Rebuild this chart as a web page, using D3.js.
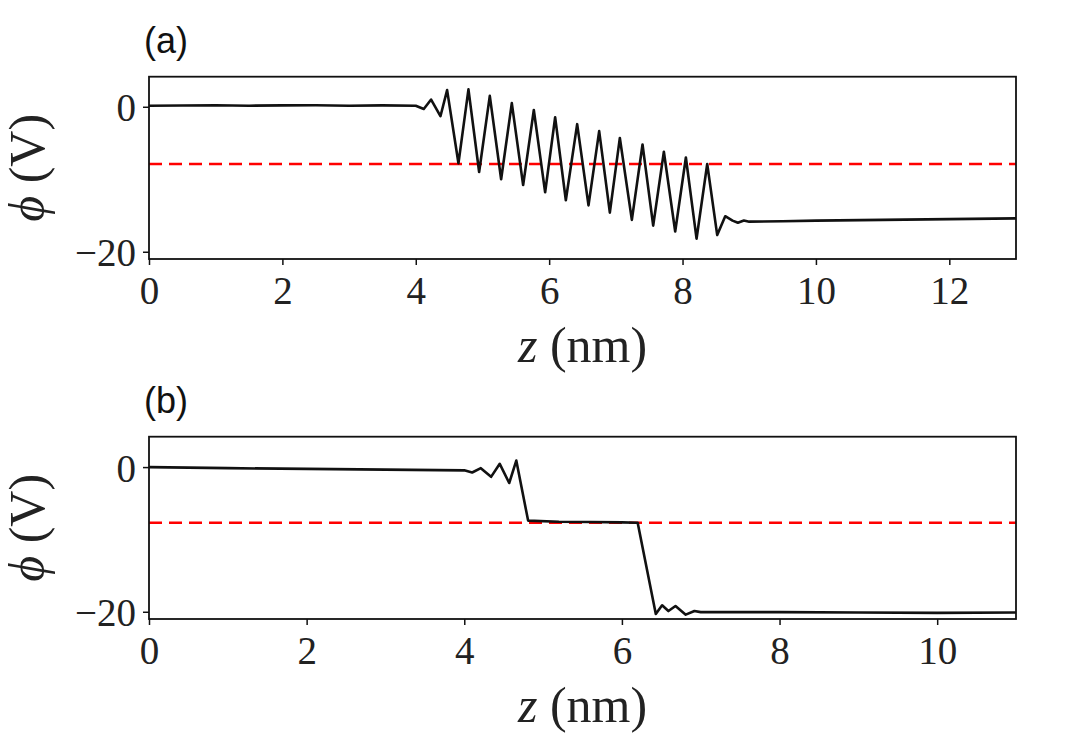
<!DOCTYPE html>
<html>
<head>
<meta charset="utf-8">
<script src="https://cdn.jsdelivr.net/npm/d3@7"></script>
<style>
  body { margin: 0; background: #fff; }
  svg { display: block; }
  .tick text { font-family: "Liberation Serif", "DejaVu Serif", serif; font-size: 39px; fill: #222; }
  .lab { font-family: "Liberation Serif", "DejaVu Serif", serif; font-size: 50px; fill: #222; }
  .panel { font-family: "Liberation Sans", Arial, sans-serif; font-size: 36px; fill: #111; }
</style>
</head>
<body>
<div id="chart"></div>
<script>
/* Two stacked potential profiles phi(z), each with a red dashed reference level. */

// panel (a): oscillating drop
const zA   = [0, 0.5, 1.0, 1.5, 2.0, 2.5, 3.0, 3.5, 4.0, 4.12, 4.23, 4.37, 4.47, 4.64, 4.79, 4.95, 5.11, 5.28, 5.44, 5.61, 5.77, 5.94, 6.09, 6.25, 6.42, 6.59, 6.75, 6.91, 7.06, 7.24, 7.40, 7.56, 7.72, 7.89, 8.05, 8.21, 8.37, 8.52, 8.64, 8.75, 8.83, 8.92, 9.0, 9.5, 10, 11, 12, 13];
const phiA = [0.15, 0.18, 0.22, 0.15, 0.2, 0.22, 0.15, 0.2, 0.15, -0.3, 1.0, -1.3, 2.3, -7.8, 2.4, -9.0, 1.5, -10.0, 0.5, -10.8, -0.45, -11.8, -1.45, -12.9, -2.4, -13.6, -3.35, -14.6, -4.3, -15.6, -5.2, -16.4, -6.2, -17.2, -7.0, -18.2, -7.9, -17.7, -15.1, -15.7, -16.0, -15.7, -15.85, -15.8, -15.7, -15.6, -15.5, -15.4];
const refA = -7.9;

// panel (b): two clean steps
const zB   = [0, 1, 2, 3, 4.0, 4.1, 4.21, 4.34, 4.45, 4.57, 4.66, 4.81, 5.2, 5.6, 6.0, 6.2, 6.43, 6.51, 6.59, 6.68, 6.81, 6.92, 7.0, 8, 9, 10, 11];
const phiB = [0.0, -0.15, -0.25, -0.35, -0.45, -0.75, -0.15, -1.35, 0.45, -2.2, 0.9, -7.4, -7.55, -7.6, -7.65, -7.7, -20.3, -19.1, -19.9, -19.2, -20.4, -19.9, -20.05, -20.05, -20.1, -20.15, -20.1];
const refB = -7.7;

const yTicks = [0, -20];

const W = 1079, H = 733;
const svg = d3.select("#chart").append("svg").attr("width", W).attr("height", H);

// phi-axis minus sign like matplotlib
const fmt = d => d < 0 ? "\u2212" + Math.abs(d) : String(d);

function drawPanel(opt){
  const x = d3.scaleLinear().domain(opt.xDomain).range([149, 1016]);
  const y = d3.scaleLinear().domain(opt.yDomain).range([opt.bottom, opt.top]);
  const g = svg.append("g");

  g.append("text").attr("class", "panel").attr("x", 144).attr("y", opt.top - 24).text(opt.name);

  // x axis
  g.append("g").attr("transform", `translate(0,${opt.bottom})`)
    .call(d3.axisBottom(x).ticks(opt.xDomain[1] / 2).tickSize(6).tickPadding(8).tickFormat(d3.format("d")))
    .call(a => a.select(".domain").remove())
    .call(a => a.selectAll(".tick line").attr("stroke", "#111").attr("stroke-width", 1.5))
    .call(a => a.selectAll(".tick text").attr("dy", "0.8em"));

  // y axis
  g.append("g").attr("transform", "translate(149,0)")
    .call(d3.axisLeft(y).tickValues(yTicks).tickSize(6).tickPadding(7).tickFormat(fmt))
    .call(a => a.select(".domain").remove())
    .call(a => a.selectAll(".tick line").attr("stroke", "#111").attr("stroke-width", 1.5))
    .call(a => a.selectAll(".tick text").attr("dy", "0.36em"));

  // reference level
  g.append("line")
    .attr("x1", x(opt.xDomain[0])).attr("x2", x(opt.xDomain[1]))
    .attr("y1", y(opt.ref)).attr("y2", y(opt.ref))
    .attr("stroke", "#ff0000").attr("stroke-width", 2.5).attr("stroke-dasharray", "13,7");

  const line = d3.line().x((d, i) => x(opt.zs[i])).y(d => y(d));
  g.append("path").datum(opt.phis)
    .attr("d", line).attr("fill", "none")
    .attr("stroke", "#111").attr("stroke-width", 2.6).attr("stroke-linejoin", "round");

  // frame
  g.append("rect").attr("x", 149).attr("y", opt.top)
    .attr("width", 1016 - 149).attr("height", opt.bottom - opt.top)
    .attr("fill", "none").attr("stroke", "#111").attr("stroke-width", 1.8);

  // axis labels
  const xl = g.append("text").attr("class", "lab").attr("text-anchor", "middle")
    .attr("x", (149 + 1016) / 2).attr("y", opt.bottom + 103);
  xl.append("tspan").attr("font-style", "italic").text("z");
  xl.append("tspan").text(" (nm)");

  const yl = g.append("text").attr("class", "lab").attr("text-anchor", "middle")
    .attr("transform", `translate(44,${(opt.top + opt.bottom) / 2}) rotate(-90)`);
  yl.append("tspan").attr("font-style", "italic").text("\u03D5");
  yl.append("tspan").text(" (V)");
}

drawPanel({ name: "(a)", zs: zA, phis: phiA, ref: refA, xDomain: [0, 13], yDomain: [-21, 4.15], top: 76.7, bottom: 259 });
drawPanel({ name: "(b)", zs: zB, phis: phiB, ref: refB, xDomain: [0, 11], yDomain: [-21, 4.2], top: 436.7, bottom: 619 });
</script>
</body>
</html>
